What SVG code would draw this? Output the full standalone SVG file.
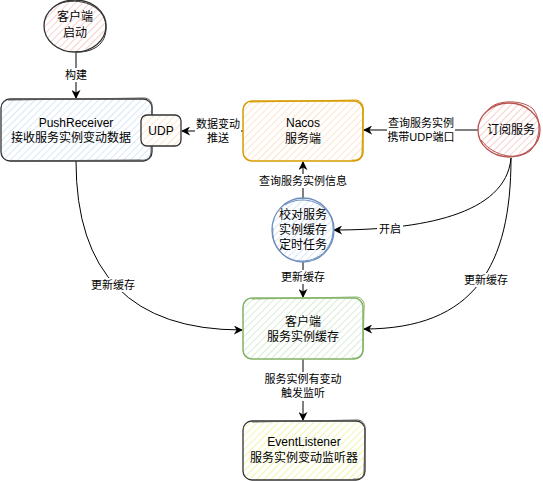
<svg xmlns="http://www.w3.org/2000/svg" width="543" height="481" viewBox="0 0 543 481">
<defs>
<pattern id="hPink" patternUnits="userSpaceOnUse" width="5" height="5" patternTransform="rotate(45)"><line x1="0" y1="0" x2="0" y2="5" stroke="#f2b8b5" stroke-width="1.3"/></pattern>
<pattern id="hBlue" patternUnits="userSpaceOnUse" width="5" height="5" patternTransform="rotate(45)"><line x1="0" y1="0" x2="0" y2="5" stroke="#c5daf5" stroke-width="1.3"/></pattern>
<pattern id="hOrange" patternUnits="userSpaceOnUse" width="5" height="5" patternTransform="rotate(45)"><line x1="0" y1="0" x2="0" y2="5" stroke="#fdd5ad" stroke-width="1.3"/></pattern>
<pattern id="hGreen" patternUnits="userSpaceOnUse" width="5" height="5" patternTransform="rotate(45)"><line x1="0" y1="0" x2="0" y2="5" stroke="#c4e0bf" stroke-width="1.3"/></pattern>
<pattern id="hYellow" patternUnits="userSpaceOnUse" width="5" height="5" patternTransform="rotate(45)"><line x1="0" y1="0" x2="0" y2="5" stroke="#eeee80" stroke-width="1.3"/></pattern>
<marker id="arr" viewBox="0 0 10 10" refX="9" refY="5" markerWidth="9" markerHeight="9" markerUnits="userSpaceOnUse" orient="auto"><path d="M0,0 L10,5 L0,10 L3,5 Z" fill="#000"/></marker>
</defs>
<style>
text{font-family:"Liberation Sans","Noto Sans CJK SC",sans-serif;fill:#000;text-anchor:middle}
.n{font-size:12px}
.l{font-size:11px}
.e{fill:none;stroke:#000;stroke-width:1;marker-end:url(#arr)}
.bg{fill:#fff}
.sk{fill:none;stroke-width:1}
</style>
<rect width="543" height="481" fill="#fff"/>
<g id="connectors">
<path class="e" d="M76,53 L76,98"/>
<path class="e" d="M243,131 L182,131"/>
<path class="e" d="M478,130 L364,130"/>
<path class="e" d="M303,199 L303,162"/>
<path class="e" d="M511,158 C506,215 420,230 334,230"/>
<path class="e" d="M303,262 L303,297"/>
<path class="e" d="M76,161 Q76,330 242,330"/>
<path class="e" d="M511,158 C511,265 475,329 364,329"/>
<path class="e" d="M303,359 L303,420"/>
<rect class="bg" x="63" y="68" width="26" height="14"/>
<text class="l" x="76" y="79">构建</text>
<rect class="bg" x="195" y="116" width="46" height="30"/>
<text class="l" x="218" y="128">数据变动</text>
<text class="l" x="218" y="142">推送</text>
<rect class="bg" x="387" y="115" width="68" height="30"/>
<text class="l" x="421" y="127">查询服务实例</text>
<text class="l" x="421" y="141">携带UDP端口</text>
<rect class="bg" x="258" y="174" width="90" height="14"/>
<text class="l" x="303" y="185">查询服务实例信息</text>
<rect class="bg" x="377" y="222" width="26" height="14"/>
<text class="l" x="390" y="233">开启</text>
<rect class="bg" x="280" y="270" width="46" height="14"/>
<text class="l" x="303" y="281">更新缓存</text>
<rect class="bg" x="90" y="278" width="46" height="14"/>
<text class="l" x="113" y="289">更新缓存</text>
<rect class="bg" x="463" y="273" width="46" height="14"/>
<text class="l" x="486" y="284">更新缓存</text>
<rect class="bg" x="263" y="372" width="80" height="29"/>
<text class="l" x="303" y="383">服务实例有变动</text>
<text class="l" x="303" y="397">触发监听</text>
</g>
<g id="start">
<ellipse cx="75" cy="26" rx="31" ry="26" fill="url(#hPink)" stroke="#333" stroke-width="1.3"/>
<path class="sk" stroke="#333" d="M58,4 C80,-4 105,6 106,26 C107,45 92,53 75,52"/>
<text class="n" x="75" y="21">客户端</text>
<text class="n" x="75" y="37">启动</text>
</g>
<g id="pushReceiver">
<rect x="1" y="99" width="151" height="62" rx="9" fill="url(#hBlue)" stroke="#333" stroke-width="1.3"/>
<path class="sk" stroke="#555" d="M8,100 L145,98 C151,99 153,104 152,110 L151,152 C151,158 147,161 140,160 L10,161"/>
<text class="n" x="76" y="127">PushReceiver</text>
<text class="n" x="71" y="142">接收服务实例变动数据</text>
</g>
<g id="udp">
<rect x="141" y="115" width="40" height="31" rx="6" fill="#fff" stroke="none"/>
<rect x="141" y="115" width="40" height="31" rx="6" fill="url(#hOrange)" stroke="#333" stroke-width="1.3"/>
<text class="n" x="161" y="135">UDP</text>
</g>
<g id="nacos">
<rect x="243" y="101" width="120" height="60" rx="9" fill="url(#hOrange)" stroke="#d79b00" stroke-width="1.5"/>
<path class="sk" stroke="#d79b00" d="M250,102 L356,100 C362,101 364,106 363,112 L362,153 C362,158 358,161 352,160"/>
<text class="n" x="303" y="127">Nacos</text>
<text class="n" x="303" y="143">服务端</text>
</g>
<g id="subscribe">
<ellipse cx="509" cy="130" rx="31" ry="27" fill="url(#hPink)" stroke="#b85450" stroke-width="1.3"/>
<path class="sk" stroke="#b85450" d="M488,110 C495,100 520,99 532,108 C542,118 541,140 530,151 C518,160 495,158 481,140"/>
<text class="n" x="511" y="134">订阅服务</text>
</g>
<g id="checkTask">
<ellipse cx="303" cy="230" rx="31" ry="32" fill="url(#hBlue)" stroke="#6c8ebf" stroke-width="1.3"/>
<path class="sk" stroke="#6c8ebf" d="M285,205 C300,195 325,200 332,220 C337,240 325,262 300,261 C282,260 271,245 273,228"/>
<text class="n" x="303" y="219">校对服务</text>
<text class="n" x="303" y="234">实例缓存</text>
<text class="n" x="303" y="249">定时任务</text>
</g>
<g id="clientCache">
<rect x="243" y="298" width="120" height="61" rx="9" fill="url(#hGreen)" stroke="#82b366" stroke-width="1.5"/>
<path class="sk" stroke="#82b366" d="M252,299 L357,297 C363,298 365,303 364,309 L363,350 C363,356 359,359 352,358"/>
<text class="n" x="303" y="326">客户端</text>
<text class="n" x="303" y="341">服务实例缓存</text>
</g>
<g id="eventListener">
<rect x="243" y="421" width="122" height="59" rx="9" fill="url(#hYellow)" stroke="#333" stroke-width="1.3"/>
<path class="sk" stroke="#555" d="M252,422 L358,420 C364,421 366,426 365,432 L364,472 C364,477 360,480 353,479"/>
<text class="n" x="304" y="446">EventListener</text>
<text class="n" x="304" y="462">服务实例变动监听器</text>
</g>
</svg>
